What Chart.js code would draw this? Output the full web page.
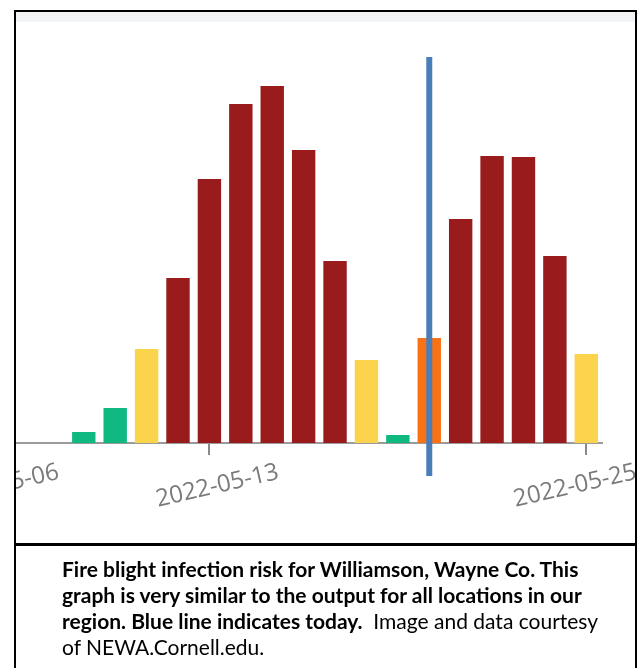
<!DOCTYPE html>
<html>
<head>
<meta charset="utf-8">
<script src="https://cdn.jsdelivr.net/npm/chart.js@4.4.1/dist/chart.umd.min.js"></script>
<style>
  html, body { margin: 0; padding: 0; background: #fff; }
  body { width: 643px; height: 668px; position: relative; overflow: hidden; }
  .frame { position: absolute; left: 14px; top: 10px; width: 619px; height: 532px; border: 2px solid #000; }
  .plot { position: absolute; left: 16px; top: 12px; width: 619px; height: 532px; overflow: hidden; }
  .band { position: absolute; left: 0; top: 0; width: 619px; height: 10px; background: #f3f4f6; }
  .cv { position: absolute; left: -16px; top: -12px; width: 643px; height: 544px; }
  .caption { position: absolute; left: 14px; top: 543px; width: 619px; height: 140px; border: 2px solid #000; }
  .caption p { margin: 0; position: absolute; left: 46px; top: 11px; font-family: Lato, "Open Sans", sans-serif; font-size: 21px; line-height: 26px; color: #000; white-space: nowrap; }
</style>
</head>
<body>
<div class="frame"></div>
<div class="plot">
  <div class="band"></div>
  <div class="cv"><canvas id="risk"></canvas></div>
</div>
<div class="caption">
  <p><b>Fire blight infection risk for Williamson, Wayne Co. This<br>graph is very similar to the output for all locations in our<br>region. Blue line indicates today.</b>&nbsp; Image and data courtesy<br>of NEWA.Cornell.edu.</p>
</div>
<script>
// daily fire blight risk
const dates = ["2022-05-09", "2022-05-10", "2022-05-11", "2022-05-12", "2022-05-13", "2022-05-14",
  "2022-05-15", "2022-05-16", "2022-05-17", "2022-05-18", "2022-05-19", "2022-05-20",
  "2022-05-21", "2022-05-22", "2022-05-23", "2022-05-24", "2022-05-25"];
const riskValues = [11, 35, 94, 165, 264, 339, 357, 293, 182, 83, 8, 105, 224, 287, 286, 187, 89];
const riskLevels = ["low", "low", "moderate", "extreme", "extreme", "extreme", "extreme", "extreme",
  "extreme", "moderate", "low", "high", "extreme", "extreme", "extreme", "extreme", "moderate"];
const tickLabels = ["2022-05-06", "2022-05-13", "2022-05-25"];
const today = "2022-05-20";

const levelColors = { low: "#10b981", moderate: "#fcd34d", high: "#f97316", extreme: "#991b1b" };
const dayOf = (d) => Number(d.slice(8));
const tickDays = tickLabels.map(dayOf);

// rotated date labels, centred under the tick but kept inside the canvas
const rotatedLabels = {
  id: "rotatedLabels",
  afterDraw(chart) {
    const sx = chart.scales.x;
    const ctx = chart.ctx;
    const angle = -13 * Math.PI / 180;
    ctx.save();
    ctx.font = '24px "Open Sans", sans-serif';
    ctx.fillStyle = "#7a7a7a";
    ctx.textAlign = "center";
    ctx.textBaseline = "middle";
    tickLabels.forEach((lbl, i) => {
      const half = ctx.measureText(lbl).width / 2 * Math.cos(angle);
      const x = Math.min(sx.getPixelForValue(tickDays[i]) + 8, chart.width - 7 - half);
      ctx.save();
      ctx.translate(x, sx.top + 43);
      ctx.rotate(angle);
      ctx.fillText(lbl, 0, 0);
      ctx.restore();
    });
    ctx.restore();
  }
};

new Chart(document.getElementById("risk"), {
  type: "bar",
  data: {
    datasets: [
      {
        type: "line",
        data: [{ x: dayOf(today), y: 386 }, { x: dayOf(today), y: -33 }],
        borderColor: "#4a7ebb",
        borderWidth: 6,
        pointRadius: 0,
        borderCapStyle: "butt",
        clip: false,
        order: 0
      },
      {
        type: "bar",
        data: dates.map((d, i) => ({ x: dayOf(d), y: riskValues[i] })),
        backgroundColor: riskLevels.map((l) => levelColors[l]),
        borderWidth: 0,
        barPercentage: 0.745,
        categoryPercentage: 1,
        order: 1
      }
    ]
  },
  options: {
    responsive: true,
    maintainAspectRatio: false,
    animation: false,
    layout: { padding: { left: 15, right: 41, top: 57, bottom: 89 } },
    plugins: { legend: { display: false }, tooltip: { enabled: false } },
    scales: {
      x: {
        type: "linear",
        min: 6.81,
        max: 25.5,
        offset: false,
        afterBuildTicks: (scale) => {
          scale.ticks = tickDays.filter((v) => v >= scale.min && v <= scale.max).map((v) => ({ value: v }));
        },
        ticks: { display: false },
        grid: { offset: false, drawOnChartArea: false, drawTicks: true, tickLength: 12, color: "#8a8a8a", lineWidth: 2 },
        border: { display: true, color: "#9a9a9a", width: 2 }
      },
      y: { display: false, min: 0, max: 386 }
    }
  },
  plugins: [rotatedLabels]
});
</script>
</body>
</html>
